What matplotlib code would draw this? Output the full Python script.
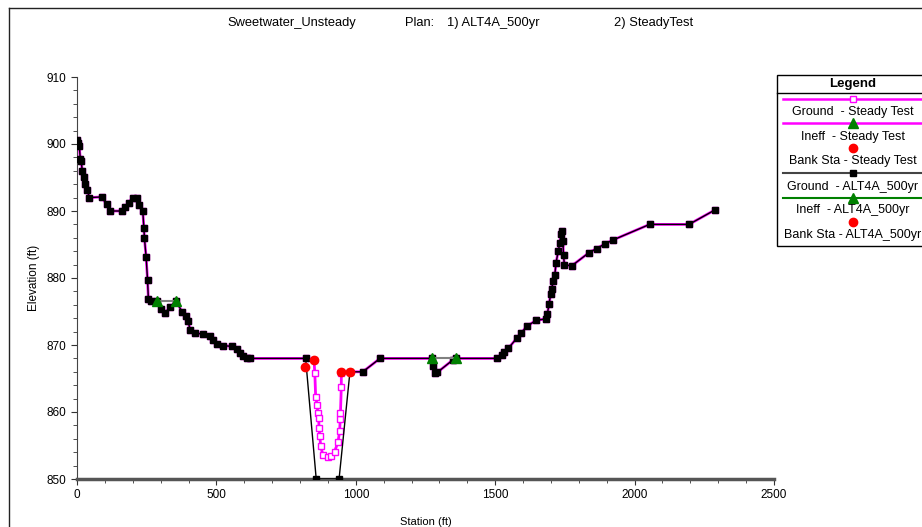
import numpy as np
import matplotlib
matplotlib.use('Agg')
import matplotlib.pyplot as plt
from matplotlib.patches import Rectangle
from matplotlib.ticker import MultipleLocator

plt.rcParams['font.family'] = ['Liberation Sans Narrow', 'Liberation Sans', 'DejaVu Sans']

# overbank ground, same for both plans
left_sta = [0, 4, 8, 12, 15, 19, 24, 28, 37, 44, 89, 106, 118, 160, 172, 185, 200, 214,
            222, 236, 240, 242, 248, 253, 256, 267, 287, 303, 316, 334, 355, 376, 391,
            399, 405, 424, 453, 477, 489, 501, 525, 555, 573, 584, 596, 608, 621, 820]
left_elev = [900.6, 900.2, 899.7, 897.7, 897.4, 896.0, 895.1, 894.0, 893.2, 892.0, 892.1,
             891.0, 890.0, 890.0, 890.6, 891.2, 892.0, 892.0, 890.9, 890.0, 887.4, 885.9,
             883.1, 879.7, 876.9, 876.6, 876.6, 875.3, 874.8, 875.6, 876.6, 875.0, 874.3,
             873.6, 872.3, 871.8, 871.6, 871.3, 870.8, 870.1, 869.9, 869.8, 869.4, 868.8,
             868.4, 868.1, 868.0, 868.0]
right_sta = [1087, 1272, 1278, 1284, 1292, 1349, 1361, 1505, 1523, 1531, 1547, 1577, 1594,
             1613, 1648, 1684, 1687, 1693, 1699, 1702, 1708, 1714, 1718, 1726, 1732, 1736,
             1740, 1743, 1745, 1748, 1774, 1837, 1864, 1894, 1924, 2054, 2195, 2290]
right_elev = [868.0, 868.0, 866.8, 865.8, 865.9, 867.8, 868.0, 868.0, 868.5, 868.9, 869.5,
              871.0, 871.8, 872.8, 873.7, 873.9, 874.6, 876.1, 877.6, 878.3, 879.5, 880.5,
              882.2, 884.0, 885.2, 886.5, 887.0, 885.5, 883.5, 882.0, 881.8, 883.8, 884.4,
              885.1, 885.7, 888.0, 888.0, 890.2]

# main channel, Steady Test
steady_ch_sta = [850, 853, 856, 861, 864, 867, 868, 871, 874, 882, 900, 912, 924, 936, 942,
                 944, 945, 948, 948, 948, 1025]
steady_ch_elev = [867.8, 865.8, 862.3, 861.1, 859.8, 859.1, 857.6, 856.4, 854.9, 853.6,
                  853.3, 853.4, 854.1, 855.5, 857.1, 858.9, 859.9, 863.8, 865.8, 866.0, 866.0]
# main channel, ALT4A_500yr
alt_ch_sta = [858, 940, 979, 1025]
alt_ch_elev = [850.0, 850.0, 866.0, 866.0]

ineff_sta = [[287, 355], [1272, 1361]]
ineff_elev = [876.6, 868.0]

bank_sta = [818, 850, 948, 979]
bank_elev = [866.7, 867.8, 866.0, 866.0]

steady_sta = left_sta + steady_ch_sta + right_sta
steady_elev = left_elev + steady_ch_elev + right_elev
alt_sta = left_sta + alt_ch_sta + right_sta
alt_elev = left_elev + alt_ch_elev + right_elev

fig = plt.figure(figsize=(9.22, 5.27), dpi=100)
W, H = 922, 527
ax = fig.add_axes([77 / W, 1 - 479 / H, (774 - 77) / W, (479 - 77) / H])

ax.plot(steady_sta, steady_elev, color='magenta', lw=2, marker='s', ms=4.5,
        mfc='white', mec='magenta', mew=1, zorder=2)
ax.plot(alt_sta, alt_elev, color='black', lw=1, marker='s', ms=3.8,
        mfc='black', mec='black', zorder=3)
for s, e in zip(ineff_sta, ineff_elev):
    ax.plot(s, [e, e], color='#808080', lw=1.5, zorder=4)
    ax.plot(s, [e, e], ls='none', marker='^', color='green', ms=7, zorder=5)
ax.plot(bank_sta, bank_elev, ls='none', marker='o', color='red', ms=6, zorder=6)

ax.set_xlim(0, 2500)
ax.set_ylim(850, 910)
ax.xaxis.set_major_locator(MultipleLocator(500))
ax.xaxis.set_minor_locator(MultipleLocator(100))
ax.yaxis.set_major_locator(MultipleLocator(10))
ax.yaxis.set_minor_locator(MultipleLocator(2))
ax.tick_params(which='both', direction='out', colors='#333333', labelsize=8.5,
               labelcolor='black')
ax.tick_params(which='major', length=4)
ax.tick_params(which='minor', length=3)
ax.spines['top'].set_visible(False)
ax.spines['right'].set_visible(False)
ax.spines['left'].set_color('#444444')
ax.spines['bottom'].set_color('#555555')
ax.spines['bottom'].set_linewidth(2.5)
ax.set_xlabel('Station (ft)', fontsize=8)
ax.set_ylabel('Elevation (ft)', fontsize=8.5)
ax.xaxis.set_label_coords(0.5, -0.095)
ax.yaxis.set_label_coords(-0.053, 0.5)

# overlay in pixel coordinates for title, frame and legend
ov = fig.add_axes([0, 0, 1, 1], zorder=10)
ov.set_xlim(0, W)
ov.set_ylim(H, 0)
ov.axis('off')
ov.patch.set_alpha(0)

ov.plot([9, 9], [8, H], color='#222222', lw=1)
ov.plot([9, W], [8, 8], color='#222222', lw=1)

for x, t in [(227, 'Sweetwater_Unsteady'), (405, 'Plan:'), (447, '1) ALT4A_500yr'),
             (614, '2) SteadyTest')]:
    ov.text(x, 23, t, fontsize=9.3, ha='left', va='center')

lfont = ['Liberation Sans', 'DejaVu Sans']
ov.add_patch(Rectangle((777, 75), 170, 171, fc='white', ec='black', lw=1))
ov.text(853, 84, 'Legend', fontsize=9.5, fontweight='bold', ha='center', va='center',
        family=lfont)
ov.plot([777, W], [93, 93], color='black', lw=1)

lx = [783, W]
mx = 853
ov.plot(lx, [99, 99], color='magenta', lw=1.8)
ov.plot(mx, 99, marker='s', ms=4.5, mfc='white', mec='magenta')
ov.plot(lx, [123, 123], color='magenta', lw=1.8)
ov.plot(mx, 123, marker='^', ms=7, color='green')
ov.plot(mx, 148, marker='o', ms=6, color='red')
ov.plot(lx, [173, 173], color='#444444', lw=1.5)
ov.plot(mx, 173, marker='s', ms=3.8, color='black')
ov.plot(lx, [198, 198], color='green', lw=1.5)
ov.plot(mx, 198, marker='^', ms=7, color='green')
ov.plot(mx, 222, marker='o', ms=6, color='red')

labels = ['Ground  - Steady Test', 'Ineff  - Steady Test', 'Bank Sta - Steady Test',
          'Ground  - ALT4A_500yr', 'Ineff  - ALT4A_500yr', 'Bank Sta - ALT4A_500yr']
for y, t in zip([112, 137, 161, 187, 210, 235], labels):
    ov.text(mx, y, t, fontsize=9, ha='center', va='center', family=lfont)

fig.savefig('out.png', dpi=100)
